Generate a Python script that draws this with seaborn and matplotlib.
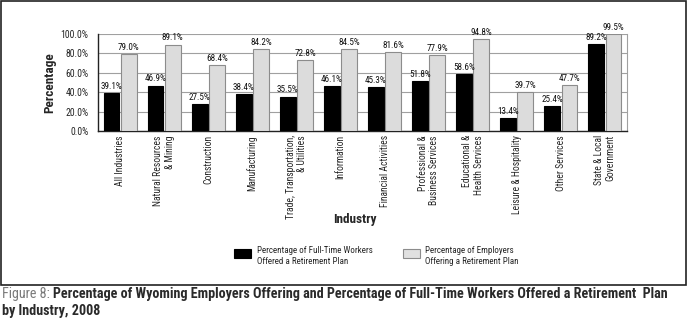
import matplotlib
matplotlib.use("Agg")
import matplotlib.pyplot as plt
from matplotlib import font_manager as fm
import seaborn as sns
import pandas as pd
import numpy as np
from matplotlib.patches import Rectangle

categories = ["All Industries", "Natural Resources\n& Mining", "Construction", "Manufacturing",
              "Trade, Transportation,\n& Utilities", "Information", "Financial Activities",
              "Professional &\nBusiness Services", "Educational &\nHealth Services",
              "Leisure & Hospitality", "Other Services", "State & Local\nGovernment"]
workers = [39.1, 46.9, 27.5, 38.4, 35.5, 46.1, 45.3, 51.8, 58.6, 13.4, 25.4, 89.2]
employers = [79.0, 89.1, 68.4, 84.2, 72.8, 84.5, 81.6, 77.9, 94.8, 39.7, 47.7, 99.5]
series_names = ["Percentage of Full-Time Workers\nOffered a Retirement Plan",
                "Percentage of Employers\nOffering a Retirement Plan"]
yticks = [0, 20, 40, 60, 80, 100]

sns.set_style("white")
names = {f.name for f in fm.fontManager.ttflist}
cond = None
for n in ["Liberation Sans Narrow", "DejaVu Sans Condensed", "Roboto Condensed",
          "Open Sans Condensed", "Noto Sans Condensed"]:
    if n in names:
        cond = n
        break
base = "Liberation Sans" if "Liberation Sans" in names else "DejaVu Sans"
fams = ([cond] if cond else []) + [base, "DejaVu Sans"]
plt.rcParams['font.family'] = fams
scale = 1.0 if cond else 0.88

df = pd.DataFrame({
    "Industry": categories * 2,
    "Value": workers + employers,
    "Series": [series_names[0]] * len(categories) + [series_names[1]] * len(categories),
})

W, H = 689, 328
fig = plt.figure(figsize=(W / 100, H / 100), dpi=100)

def fx(px): return px / W
def fy(py): return 1 - py / H

ax = fig.add_axes([fx(98), fy(131), fx(627) - fx(98), fy(34) - fy(131)])
palette = {series_names[0]: "#000000", series_names[1]: "#dcdcdc"}
sns.barplot(data=df, x="Industry", y="Value", hue="Series", order=categories,
            hue_order=series_names, palette=palette, width=0.78, gap=0.08,
            edgecolor="#8c8c8c", linewidth=0.8, ax=ax, legend=False, zorder=3)
for c in ax.containers:
    for p in c.patches:
        if p.get_facecolor()[0] < 0.1:
            p.set_edgecolor("#000000")
    ax.bar_label(c, labels=[f"{v:.1f}%" for v in c.datavalues], padding=1.5,
                 fontsize=6.6 * scale, color="#111111")

ax.set_ylim(0, 100)
ax.set_xlim(-0.5, len(categories) - 0.5)
ax.set_yticks(yticks)
ax.set_yticklabels([f"{v:.1f}%" for v in yticks], fontsize=7.0 * scale)
ax.yaxis.grid(True, color="#a0a0a0", linewidth=0.8, zorder=0)
ax.set_axisbelow(True)
ax.set_xticks(range(len(categories)))
ax.set_xticklabels(categories, rotation=90, fontsize=6.9 * scale, va="top", ha="center",
                   multialignment="right")
ax.tick_params(axis="x", length=0, pad=3)
ax.set_xticks(np.arange(-0.5, len(categories)), minor=True)
ax.tick_params(axis="x", which="minor", length=3, color="#333333", direction="out")
ax.tick_params(axis="y", length=0, pad=7)
ax.set_xlabel("")
ax.set_ylabel("Percentage", fontsize=9.5, fontweight="bold", labelpad=3)
for s in ["left", "bottom"]:
    ax.spines[s].set_color("#222222")
    ax.spines[s].set_linewidth(1.0)
ax.spines["top"].set_visible(False)
ax.spines["right"].set_color("#a0a0a0")

fig.text(fx(355), fy(220), "Industry", fontsize=9.5, fontweight="bold", ha="center", va="center")

# outer frame
fig.patches.append(Rectangle((fx(1), fy(285)), fx(686) - fx(1), fy(1) - fy(285),
                             transform=fig.transFigure, fill=False, edgecolor="#222222",
                             linewidth=1.2))

# legend
for bx, tx, col, ec, name in [(234, 257, "#000000", "#000000", series_names[0]),
                              (403, 425, "#e0e0e0", "#8c8c8c", series_names[1])]:
    fig.patches.append(Rectangle((fx(bx), fy(258)), fx(17), 9 / H, transform=fig.transFigure,
                                 facecolor=col, edgecolor=ec, linewidth=0.8))
    fig.text(fx(tx), fy(256), name, fontsize=6.5 * scale, ha="left", va="center", linespacing=1.35)

# caption
cap_fs = 10.2 * (1.0 if cond else 0.86)
t1 = fig.text(fx(2), fy(298), "Figure 8: ", fontsize=cap_fs, color="#7a7a7a", ha="left",
              va="baseline")
fig.canvas.draw()
bb = t1.get_window_extent()
fig.text(bb.x1 / W, fy(298),
         "Percentage of Wyoming Employers Offering and Percentage of Full-Time Workers Offered a Retirement  Plan",
         fontsize=cap_fs, color="#2a2a2a", fontweight="bold", ha="left", va="baseline")
fig.text(fx(2), fy(315), "by Industry, 2008", fontsize=cap_fs, color="#2a2a2a", fontweight="bold",
         ha="left", va="baseline")

fig.savefig("out.png", dpi=100)
